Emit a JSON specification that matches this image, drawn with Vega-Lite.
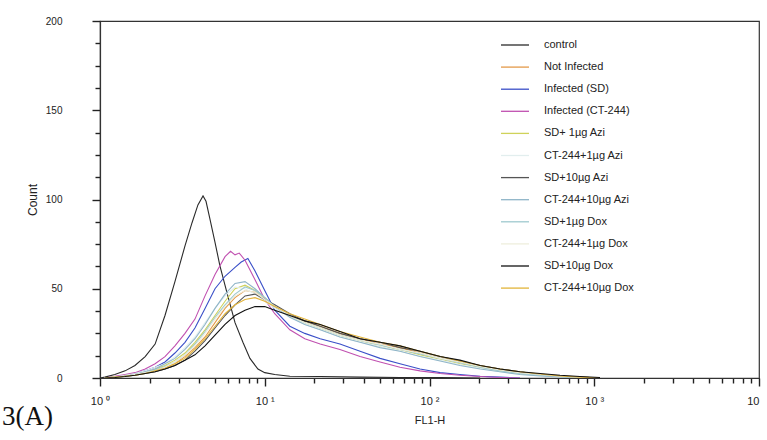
{
  "$schema": "https://vega.github.io/schema/vega-lite/v6.json",
  "width": 659,
  "height": 357,
  "autosize": {"type": "none"},
  "padding": {"left": 100, "top": 21, "right": 8, "bottom": 62},
  "config": {
    "view": {"stroke": "#333333", "strokeWidth": 1.2},
    "font": "Liberation Sans"
  },
  "title": {
    "text": "3(A)",
    "orient": "bottom",
    "anchor": "start",
    "frame": "group",
    "dx": -98,
    "offset": -21,
    "font": "Liberation Serif",
    "fontSize": 27,
    "fontWeight": "normal",
    "color": "#111111"
  },
  "data": {
    "values": [
      {"s":"control","x":1.0,"y":0},{"s":"control","x":1.07,"y":0.5},{"s":"control","x":1.23,"y":2},{"s":"control","x":1.42,"y":4},{"s":"control","x":1.63,"y":7},{"s":"control","x":1.88,"y":12},{"s":"control","x":2.16,"y":19},{"s":"control","x":2.48,"y":35},{"s":"control","x":2.85,"y":54},{"s":"control","x":3.28,"y":74},{"s":"control","x":3.62,"y":87},{"s":"control","x":3.93,"y":97},{"s":"control","x":4.22,"y":102},{"s":"control","x":4.4,"y":99},{"s":"control","x":4.65,"y":89},{"s":"control","x":4.99,"y":76},{"s":"control","x":5.34,"y":63},{"s":"control","x":5.89,"y":48},{"s":"control","x":6.6,"y":31},{"s":"control","x":7.37,"y":20},{"s":"control","x":8.13,"y":11},{"s":"control","x":9.09,"y":5},{"s":"control","x":10.0,"y":3},{"s":"control","x":11.5,"y":2},{"s":"control","x":14.2,"y":1},{"s":"control","x":21.7,"y":0.8},{"s":"control","x":37.9,"y":0.5},{"s":"control","x":66.2,"y":0.3},{"s":"control","x":116,"y":0.2},{"s":"control","x":203,"y":0},

      {"s":"Not Infected","x":1.07,"y":0},{"s":"Not Infected","x":1.23,"y":0.5},{"s":"Not Infected","x":1.42,"y":1},{"s":"Not Infected","x":1.63,"y":2},{"s":"Not Infected","x":1.88,"y":3},{"s":"Not Infected","x":2.16,"y":4},{"s":"Not Infected","x":2.48,"y":6},{"s":"Not Infected","x":2.85,"y":8},{"s":"Not Infected","x":3.28,"y":12},{"s":"Not Infected","x":3.77,"y":17},{"s":"Not Infected","x":4.34,"y":23},{"s":"Not Infected","x":4.99,"y":31},{"s":"Not Infected","x":5.74,"y":39},{"s":"Not Infected","x":6.6,"y":45},{"s":"Not Infected","x":7.59,"y":49},{"s":"Not Infected","x":8.73,"y":48},{"s":"Not Infected","x":10.0,"y":44},{"s":"Not Infected","x":11.5,"y":40},{"s":"Not Infected","x":14.2,"y":35},{"s":"Not Infected","x":17.5,"y":32},{"s":"Not Infected","x":21.7,"y":29},{"s":"Not Infected","x":28.6,"y":25},{"s":"Not Infected","x":37.9,"y":22},{"s":"Not Infected","x":50.1,"y":19},{"s":"Not Infected","x":66.2,"y":17},{"s":"Not Infected","x":87.6,"y":14},{"s":"Not Infected","x":116,"y":11},{"s":"Not Infected","x":153,"y":9},{"s":"Not Infected","x":203,"y":6.5},{"s":"Not Infected","x":268,"y":4.5},{"s":"Not Infected","x":354,"y":3},{"s":"Not Infected","x":469,"y":2},{"s":"Not Infected","x":620,"y":1},{"s":"Not Infected","x":819,"y":0.5},{"s":"Not Infected","x":1084,"y":0},

      {"s":"Infected (SD)","x":1.07,"y":0},{"s":"Infected (SD)","x":1.23,"y":0.5},{"s":"Infected (SD)","x":1.42,"y":1.5},{"s":"Infected (SD)","x":1.63,"y":2.5},{"s":"Infected (SD)","x":1.88,"y":4},{"s":"Infected (SD)","x":2.16,"y":6},{"s":"Infected (SD)","x":2.48,"y":9},{"s":"Infected (SD)","x":2.85,"y":14},{"s":"Infected (SD)","x":3.28,"y":20},{"s":"Infected (SD)","x":3.77,"y":28},{"s":"Infected (SD)","x":4.34,"y":39},{"s":"Infected (SD)","x":4.99,"y":50},{"s":"Infected (SD)","x":5.74,"y":57},{"s":"Infected (SD)","x":6.6,"y":62},{"s":"Infected (SD)","x":7.2,"y":65},{"s":"Infected (SD)","x":7.9,"y":67},{"s":"Infected (SD)","x":8.73,"y":60},{"s":"Infected (SD)","x":10.0,"y":49},{"s":"Infected (SD)","x":11.5,"y":38},{"s":"Infected (SD)","x":14.2,"y":29},{"s":"Infected (SD)","x":17.5,"y":25},{"s":"Infected (SD)","x":21.7,"y":22},{"s":"Infected (SD)","x":28.6,"y":19},{"s":"Infected (SD)","x":37.9,"y":15},{"s":"Infected (SD)","x":50.1,"y":11},{"s":"Infected (SD)","x":66.2,"y":8},{"s":"Infected (SD)","x":87.6,"y":5},{"s":"Infected (SD)","x":116,"y":3},{"s":"Infected (SD)","x":153,"y":2},{"s":"Infected (SD)","x":203,"y":1},{"s":"Infected (SD)","x":268,"y":0.5},{"s":"Infected (SD)","x":354,"y":0},

      {"s":"Infected (CT-244)","x":1.07,"y":0},{"s":"Infected (CT-244)","x":1.23,"y":1},{"s":"Infected (CT-244)","x":1.42,"y":2},{"s":"Infected (CT-244)","x":1.63,"y":3},{"s":"Infected (CT-244)","x":1.88,"y":5},{"s":"Infected (CT-244)","x":2.16,"y":8},{"s":"Infected (CT-244)","x":2.48,"y":12},{"s":"Infected (CT-244)","x":2.85,"y":18},{"s":"Infected (CT-244)","x":3.28,"y":25},{"s":"Infected (CT-244)","x":3.77,"y":33},{"s":"Infected (CT-244)","x":4.34,"y":46},{"s":"Infected (CT-244)","x":4.99,"y":58},{"s":"Infected (CT-244)","x":5.74,"y":68},{"s":"Infected (CT-244)","x":6.2,"y":71},{"s":"Infected (CT-244)","x":6.6,"y":69},{"s":"Infected (CT-244)","x":7.0,"y":70},{"s":"Infected (CT-244)","x":7.59,"y":66},{"s":"Infected (CT-244)","x":8.73,"y":55},{"s":"Infected (CT-244)","x":10.0,"y":44},{"s":"Infected (CT-244)","x":11.5,"y":36},{"s":"Infected (CT-244)","x":14.2,"y":27},{"s":"Infected (CT-244)","x":17.5,"y":22},{"s":"Infected (CT-244)","x":21.7,"y":19},{"s":"Infected (CT-244)","x":28.6,"y":16},{"s":"Infected (CT-244)","x":37.9,"y":12},{"s":"Infected (CT-244)","x":50.1,"y":9},{"s":"Infected (CT-244)","x":66.2,"y":6},{"s":"Infected (CT-244)","x":87.6,"y":4},{"s":"Infected (CT-244)","x":116,"y":2.5},{"s":"Infected (CT-244)","x":153,"y":1.5},{"s":"Infected (CT-244)","x":203,"y":0.8},{"s":"Infected (CT-244)","x":268,"y":0.3},{"s":"Infected (CT-244)","x":354,"y":0},

      {"s":"SD+ 1µg Azi","x":1.07,"y":0},{"s":"SD+ 1µg Azi","x":1.23,"y":0.5},{"s":"SD+ 1µg Azi","x":1.42,"y":1},{"s":"SD+ 1µg Azi","x":1.63,"y":2},{"s":"SD+ 1µg Azi","x":1.88,"y":3},{"s":"SD+ 1µg Azi","x":2.16,"y":5},{"s":"SD+ 1µg Azi","x":2.48,"y":7},{"s":"SD+ 1µg Azi","x":2.85,"y":10},{"s":"SD+ 1µg Azi","x":3.28,"y":14},{"s":"SD+ 1µg Azi","x":3.77,"y":20},{"s":"SD+ 1µg Azi","x":4.34,"y":27},{"s":"SD+ 1µg Azi","x":4.99,"y":35},{"s":"SD+ 1µg Azi","x":5.74,"y":43},{"s":"SD+ 1µg Azi","x":6.6,"y":50},{"s":"SD+ 1µg Azi","x":7.59,"y":52},{"s":"SD+ 1µg Azi","x":8.73,"y":49},{"s":"SD+ 1µg Azi","x":10.0,"y":45},{"s":"SD+ 1µg Azi","x":11.5,"y":40},{"s":"SD+ 1µg Azi","x":14.2,"y":35},{"s":"SD+ 1µg Azi","x":17.5,"y":31},{"s":"SD+ 1µg Azi","x":21.7,"y":28},{"s":"SD+ 1µg Azi","x":28.6,"y":24},{"s":"SD+ 1µg Azi","x":37.9,"y":21},{"s":"SD+ 1µg Azi","x":50.1,"y":18},{"s":"SD+ 1µg Azi","x":66.2,"y":16},{"s":"SD+ 1µg Azi","x":87.6,"y":13},{"s":"SD+ 1µg Azi","x":116,"y":10.5},{"s":"SD+ 1µg Azi","x":153,"y":8},{"s":"SD+ 1µg Azi","x":203,"y":6},{"s":"SD+ 1µg Azi","x":268,"y":4},{"s":"SD+ 1µg Azi","x":354,"y":2.5},{"s":"SD+ 1µg Azi","x":469,"y":1.5},{"s":"SD+ 1µg Azi","x":620,"y":0.8},{"s":"SD+ 1µg Azi","x":819,"y":0.3},{"s":"SD+ 1µg Azi","x":1084,"y":0},

      {"s":"CT-244+1µg Azi","x":1.07,"y":0},{"s":"CT-244+1µg Azi","x":1.23,"y":0.5},{"s":"CT-244+1µg Azi","x":1.42,"y":1.5},{"s":"CT-244+1µg Azi","x":1.63,"y":2.5},{"s":"CT-244+1µg Azi","x":1.88,"y":4},{"s":"CT-244+1µg Azi","x":2.16,"y":6},{"s":"CT-244+1µg Azi","x":2.48,"y":8},{"s":"CT-244+1µg Azi","x":2.85,"y":12},{"s":"CT-244+1µg Azi","x":3.28,"y":17},{"s":"CT-244+1µg Azi","x":3.77,"y":23},{"s":"CT-244+1µg Azi","x":4.34,"y":31},{"s":"CT-244+1µg Azi","x":4.99,"y":39},{"s":"CT-244+1µg Azi","x":5.74,"y":46},{"s":"CT-244+1µg Azi","x":6.6,"y":51},{"s":"CT-244+1µg Azi","x":7.59,"y":50},{"s":"CT-244+1µg Azi","x":8.73,"y":47},{"s":"CT-244+1µg Azi","x":10.0,"y":43},{"s":"CT-244+1µg Azi","x":11.5,"y":39},{"s":"CT-244+1µg Azi","x":14.2,"y":34},{"s":"CT-244+1µg Azi","x":17.5,"y":30},{"s":"CT-244+1µg Azi","x":21.7,"y":27},{"s":"CT-244+1µg Azi","x":28.6,"y":23},{"s":"CT-244+1µg Azi","x":37.9,"y":20},{"s":"CT-244+1µg Azi","x":50.1,"y":18},{"s":"CT-244+1µg Azi","x":66.2,"y":15},{"s":"CT-244+1µg Azi","x":87.6,"y":12},{"s":"CT-244+1µg Azi","x":116,"y":10},{"s":"CT-244+1µg Azi","x":153,"y":7.5},{"s":"CT-244+1µg Azi","x":203,"y":5.5},{"s":"CT-244+1µg Azi","x":268,"y":3.5},{"s":"CT-244+1µg Azi","x":354,"y":2.5},{"s":"CT-244+1µg Azi","x":469,"y":1.5},{"s":"CT-244+1µg Azi","x":620,"y":0.7},{"s":"CT-244+1µg Azi","x":819,"y":0.3},{"s":"CT-244+1µg Azi","x":1084,"y":0},

      {"s":"SD+10µg Azi","x":1.07,"y":0},{"s":"SD+10µg Azi","x":1.23,"y":0.3},{"s":"SD+10µg Azi","x":1.42,"y":1},{"s":"SD+10µg Azi","x":1.63,"y":1.5},{"s":"SD+10µg Azi","x":1.88,"y":2.5},{"s":"SD+10µg Azi","x":2.16,"y":3.5},{"s":"SD+10µg Azi","x":2.48,"y":5},{"s":"SD+10µg Azi","x":2.85,"y":7},{"s":"SD+10µg Azi","x":3.28,"y":10},{"s":"SD+10µg Azi","x":3.77,"y":15},{"s":"SD+10µg Azi","x":4.34,"y":21},{"s":"SD+10µg Azi","x":4.99,"y":28},{"s":"SD+10µg Azi","x":5.74,"y":35},{"s":"SD+10µg Azi","x":6.6,"y":41},{"s":"SD+10µg Azi","x":7.59,"y":46},{"s":"SD+10µg Azi","x":8.73,"y":47},{"s":"SD+10µg Azi","x":10.0,"y":44},{"s":"SD+10µg Azi","x":11.5,"y":41},{"s":"SD+10µg Azi","x":14.2,"y":36},{"s":"SD+10µg Azi","x":17.5,"y":32},{"s":"SD+10µg Azi","x":21.7,"y":29},{"s":"SD+10µg Azi","x":28.6,"y":25},{"s":"SD+10µg Azi","x":37.9,"y":22},{"s":"SD+10µg Azi","x":50.1,"y":20},{"s":"SD+10µg Azi","x":66.2,"y":17},{"s":"SD+10µg Azi","x":87.6,"y":15},{"s":"SD+10µg Azi","x":116,"y":12},{"s":"SD+10µg Azi","x":153,"y":9.5},{"s":"SD+10µg Azi","x":203,"y":7},{"s":"SD+10µg Azi","x":268,"y":5},{"s":"SD+10µg Azi","x":354,"y":3.5},{"s":"SD+10µg Azi","x":469,"y":2},{"s":"SD+10µg Azi","x":620,"y":1},{"s":"SD+10µg Azi","x":819,"y":0.5},{"s":"SD+10µg Azi","x":1084,"y":0},

      {"s":"CT-244+10µg Azi","x":1.07,"y":0},{"s":"CT-244+10µg Azi","x":1.23,"y":0.5},{"s":"CT-244+10µg Azi","x":1.42,"y":1},{"s":"CT-244+10µg Azi","x":1.63,"y":2},{"s":"CT-244+10µg Azi","x":1.88,"y":3.5},{"s":"CT-244+10µg Azi","x":2.16,"y":5},{"s":"CT-244+10µg Azi","x":2.48,"y":8},{"s":"CT-244+10µg Azi","x":2.85,"y":11},{"s":"CT-244+10µg Azi","x":3.28,"y":16},{"s":"CT-244+10µg Azi","x":3.77,"y":22},{"s":"CT-244+10µg Azi","x":4.34,"y":30},{"s":"CT-244+10µg Azi","x":4.99,"y":39},{"s":"CT-244+10µg Azi","x":5.74,"y":47},{"s":"CT-244+10µg Azi","x":6.6,"y":53},{"s":"CT-244+10µg Azi","x":7.59,"y":54},{"s":"CT-244+10µg Azi","x":8.73,"y":50},{"s":"CT-244+10µg Azi","x":10.0,"y":45},{"s":"CT-244+10µg Azi","x":11.5,"y":40},{"s":"CT-244+10µg Azi","x":14.2,"y":34},{"s":"CT-244+10µg Azi","x":17.5,"y":30},{"s":"CT-244+10µg Azi","x":21.7,"y":27},{"s":"CT-244+10µg Azi","x":28.6,"y":23},{"s":"CT-244+10µg Azi","x":37.9,"y":20},{"s":"CT-244+10µg Azi","x":50.1,"y":17},{"s":"CT-244+10µg Azi","x":66.2,"y":15},{"s":"CT-244+10µg Azi","x":87.6,"y":12},{"s":"CT-244+10µg Azi","x":116,"y":9.5},{"s":"CT-244+10µg Azi","x":153,"y":7},{"s":"CT-244+10µg Azi","x":203,"y":5},{"s":"CT-244+10µg Azi","x":268,"y":3.5},{"s":"CT-244+10µg Azi","x":354,"y":2},{"s":"CT-244+10µg Azi","x":469,"y":1.2},{"s":"CT-244+10µg Azi","x":620,"y":0.6},{"s":"CT-244+10µg Azi","x":819,"y":0.2},{"s":"CT-244+10µg Azi","x":1084,"y":0},

      {"s":"SD+1µg Dox","x":1.07,"y":0},{"s":"SD+1µg Dox","x":1.23,"y":0.5},{"s":"SD+1µg Dox","x":1.42,"y":1},{"s":"SD+1µg Dox","x":1.63,"y":2},{"s":"SD+1µg Dox","x":1.88,"y":3},{"s":"SD+1µg Dox","x":2.16,"y":4.5},{"s":"SD+1µg Dox","x":2.48,"y":6.5},{"s":"SD+1µg Dox","x":2.85,"y":9},{"s":"SD+1µg Dox","x":3.28,"y":13},{"s":"SD+1µg Dox","x":3.77,"y":19},{"s":"SD+1µg Dox","x":4.34,"y":26},{"s":"SD+1µg Dox","x":4.99,"y":34},{"s":"SD+1µg Dox","x":5.74,"y":41},{"s":"SD+1µg Dox","x":6.6,"y":47},{"s":"SD+1µg Dox","x":7.59,"y":51},{"s":"SD+1µg Dox","x":8.73,"y":49},{"s":"SD+1µg Dox","x":10.0,"y":45},{"s":"SD+1µg Dox","x":11.5,"y":40},{"s":"SD+1µg Dox","x":14.2,"y":35},{"s":"SD+1µg Dox","x":17.5,"y":31},{"s":"SD+1µg Dox","x":21.7,"y":28},{"s":"SD+1µg Dox","x":28.6,"y":24},{"s":"SD+1µg Dox","x":37.9,"y":21},{"s":"SD+1µg Dox","x":50.1,"y":18.5},{"s":"SD+1µg Dox","x":66.2,"y":16},{"s":"SD+1µg Dox","x":87.6,"y":13.5},{"s":"SD+1µg Dox","x":116,"y":11},{"s":"SD+1µg Dox","x":153,"y":8.5},{"s":"SD+1µg Dox","x":203,"y":6},{"s":"SD+1µg Dox","x":268,"y":4},{"s":"SD+1µg Dox","x":354,"y":2.5},{"s":"SD+1µg Dox","x":469,"y":1.5},{"s":"SD+1µg Dox","x":620,"y":0.8},{"s":"SD+1µg Dox","x":819,"y":0.3},{"s":"SD+1µg Dox","x":1084,"y":0},

      {"s":"CT-244+1µg Dox","x":1.07,"y":0},{"s":"CT-244+1µg Dox","x":1.23,"y":0.5},{"s":"CT-244+1µg Dox","x":1.42,"y":1},{"s":"CT-244+1µg Dox","x":1.63,"y":2},{"s":"CT-244+1µg Dox","x":1.88,"y":3},{"s":"CT-244+1µg Dox","x":2.16,"y":4},{"s":"CT-244+1µg Dox","x":2.48,"y":6},{"s":"CT-244+1µg Dox","x":2.85,"y":9},{"s":"CT-244+1µg Dox","x":3.28,"y":13},{"s":"CT-244+1µg Dox","x":3.77,"y":18},{"s":"CT-244+1µg Dox","x":4.34,"y":25},{"s":"CT-244+1µg Dox","x":4.99,"y":33},{"s":"CT-244+1µg Dox","x":5.74,"y":40},{"s":"CT-244+1µg Dox","x":6.6,"y":46},{"s":"CT-244+1µg Dox","x":7.59,"y":49},{"s":"CT-244+1µg Dox","x":8.73,"y":48},{"s":"CT-244+1µg Dox","x":10.0,"y":44},{"s":"CT-244+1µg Dox","x":11.5,"y":40},{"s":"CT-244+1µg Dox","x":14.2,"y":35},{"s":"CT-244+1µg Dox","x":17.5,"y":31},{"s":"CT-244+1µg Dox","x":21.7,"y":28},{"s":"CT-244+1µg Dox","x":28.6,"y":24},{"s":"CT-244+1µg Dox","x":37.9,"y":21},{"s":"CT-244+1µg Dox","x":50.1,"y":19},{"s":"CT-244+1µg Dox","x":66.2,"y":16},{"s":"CT-244+1µg Dox","x":87.6,"y":14},{"s":"CT-244+1µg Dox","x":116,"y":11},{"s":"CT-244+1µg Dox","x":153,"y":9},{"s":"CT-244+1µg Dox","x":203,"y":6.5},{"s":"CT-244+1µg Dox","x":268,"y":4.5},{"s":"CT-244+1µg Dox","x":354,"y":3},{"s":"CT-244+1µg Dox","x":469,"y":2},{"s":"CT-244+1µg Dox","x":620,"y":1},{"s":"CT-244+1µg Dox","x":819,"y":0.5},{"s":"CT-244+1µg Dox","x":1084,"y":0},

      {"s":"CT-244+10µg Dox","x":1.07,"y":0},{"s":"CT-244+10µg Dox","x":1.23,"y":0.5},{"s":"CT-244+10µg Dox","x":1.42,"y":1},{"s":"CT-244+10µg Dox","x":1.63,"y":1.5},{"s":"CT-244+10µg Dox","x":1.88,"y":2.5},{"s":"CT-244+10µg Dox","x":2.16,"y":4},{"s":"CT-244+10µg Dox","x":2.48,"y":5.5},{"s":"CT-244+10µg Dox","x":2.85,"y":8},{"s":"CT-244+10µg Dox","x":3.28,"y":11},{"s":"CT-244+10µg Dox","x":3.77,"y":16},{"s":"CT-244+10µg Dox","x":4.34,"y":22},{"s":"CT-244+10µg Dox","x":4.99,"y":29},{"s":"CT-244+10µg Dox","x":5.74,"y":36},{"s":"CT-244+10µg Dox","x":6.6,"y":41},{"s":"CT-244+10µg Dox","x":7.59,"y":44},{"s":"CT-244+10µg Dox","x":8.73,"y":45},{"s":"CT-244+10µg Dox","x":10.0,"y":43},{"s":"CT-244+10µg Dox","x":11.5,"y":40},{"s":"CT-244+10µg Dox","x":14.2,"y":36},{"s":"CT-244+10µg Dox","x":17.5,"y":33},{"s":"CT-244+10µg Dox","x":21.7,"y":30},{"s":"CT-244+10µg Dox","x":28.6,"y":26},{"s":"CT-244+10µg Dox","x":37.9,"y":23},{"s":"CT-244+10µg Dox","x":50.1,"y":20},{"s":"CT-244+10µg Dox","x":66.2,"y":18},{"s":"CT-244+10µg Dox","x":87.6,"y":15},{"s":"CT-244+10µg Dox","x":116,"y":12},{"s":"CT-244+10µg Dox","x":153,"y":9.5},{"s":"CT-244+10µg Dox","x":203,"y":7},{"s":"CT-244+10µg Dox","x":268,"y":5},{"s":"CT-244+10µg Dox","x":354,"y":3.5},{"s":"CT-244+10µg Dox","x":469,"y":2.2},{"s":"CT-244+10µg Dox","x":620,"y":1.2},{"s":"CT-244+10µg Dox","x":819,"y":0.5},{"s":"CT-244+10µg Dox","x":1084,"y":0},

      {"s":"SD+10µg Dox","x":1.07,"y":0},{"s":"SD+10µg Dox","x":1.23,"y":0.3},{"s":"SD+10µg Dox","x":1.42,"y":0.8},{"s":"SD+10µg Dox","x":1.63,"y":1.5},{"s":"SD+10µg Dox","x":1.88,"y":2.5},{"s":"SD+10µg Dox","x":2.16,"y":3.5},{"s":"SD+10µg Dox","x":2.48,"y":5},{"s":"SD+10µg Dox","x":2.85,"y":7},{"s":"SD+10µg Dox","x":3.28,"y":10},{"s":"SD+10µg Dox","x":3.77,"y":13},{"s":"SD+10µg Dox","x":4.34,"y":18},{"s":"SD+10µg Dox","x":4.99,"y":24},{"s":"SD+10µg Dox","x":5.74,"y":30},{"s":"SD+10µg Dox","x":6.6,"y":35},{"s":"SD+10µg Dox","x":7.59,"y":38},{"s":"SD+10µg Dox","x":8.73,"y":40},{"s":"SD+10µg Dox","x":10.0,"y":40},{"s":"SD+10µg Dox","x":11.5,"y":38},{"s":"SD+10µg Dox","x":14.2,"y":35},{"s":"SD+10µg Dox","x":17.5,"y":32},{"s":"SD+10µg Dox","x":21.7,"y":30},{"s":"SD+10µg Dox","x":28.6,"y":26},{"s":"SD+10µg Dox","x":37.9,"y":22},{"s":"SD+10µg Dox","x":50.1,"y":20},{"s":"SD+10µg Dox","x":66.2,"y":18},{"s":"SD+10µg Dox","x":87.6,"y":15},{"s":"SD+10µg Dox","x":116,"y":12},{"s":"SD+10µg Dox","x":153,"y":10},{"s":"SD+10µg Dox","x":203,"y":7},{"s":"SD+10µg Dox","x":268,"y":5},{"s":"SD+10µg Dox","x":354,"y":3.5},{"s":"SD+10µg Dox","x":469,"y":2.5},{"s":"SD+10µg Dox","x":620,"y":1.5},{"s":"SD+10µg Dox","x":819,"y":0.8},{"s":"SD+10µg Dox","x":1084,"y":0.3}
    ]
  },
  "mark": {"type": "line", "strokeWidth": 1.1, "clip": true},
  "encoding": {
    "x": {
      "field": "x",
      "type": "quantitative",
      "scale": {"type": "log", "domain": [1, 10000]},
      "title": "FL1-H",
      "axis": {
        "values": [1,2,3,4,5,6,7,8,9,10,20,30,40,50,60,70,80,90,100,200,300,400,500,600,700,800,900,1000,2000,3000,4000,5000,6000,7000,8000,9000,10000],
        "labelExpr": "datum.value == 1 ? '10  ⁰' : datum.value == 10 ? '10  ¹' : datum.value == 100 ? '10  ²' : datum.value == 1000 ? '10  ³' : datum.value == 10000 ? '10' : ''",
        "labelOverlap": false,
        "labelFlush": false,
        "labelAlign": {"condition": {"test": "datum.value == 10000", "value": "right"}, "value": "center"},
        "labelFontSize": 11,
        "labelColor": "#222222",
        "labelPadding": 9,
        "ticks": true,
        "tickSize": {"condition": {"test": "datum.value == 1 || datum.value == 10 || datum.value == 100 || datum.value == 1000 || datum.value == 10000", "value": 8}, "value": 5},
        "tickWidth": 1.4,
        "tickColor": "#222222",
        "domainColor": "#333333",
        "domainWidth": 1.2,
        "grid": false,
        "titleFontSize": 11,
        "titleFontWeight": "normal",
        "titleColor": "#222222",
        "titlePadding": 8
      }
    },
    "y": {
      "field": "y",
      "type": "quantitative",
      "scale": {"domain": [0, 200], "nice": false},
      "title": "Count",
      "axis": {
        "values": [0,12.5,25,37.5,50,62.5,75,87.5,100,112.5,125,137.5,150,162.5,175,187.5,200],
        "labelExpr": "datum.value % 50 == 0 ? datum.value : ''",
        "labelOverlap": false,
        "labelFontSize": 10,
        "labelColor": "#222222",
        "labelPadding": 30,
        "ticks": true,
        "tickSize": {"condition": {"test": "datum.value % 50 == 0", "value": 8}, "value": 5},
        "tickWidth": 1.4,
        "tickColor": "#222222",
        "domainColor": "#333333",
        "domainWidth": 1.2,
        "grid": false,
        "titleFontSize": 12,
        "titleFontWeight": "normal",
        "titleColor": "#222222",
        "titlePadding": 6
      }
    },
    "color": {
      "field": "s",
      "type": "nominal",
      "scale": {
        "domain": ["control","Not Infected","Infected (SD)","Infected (CT-244)","SD+ 1µg Azi","CT-244+1µg Azi","SD+10µg Azi","CT-244+10µg Azi","SD+1µg Dox","CT-244+1µg Dox","SD+10µg Dox","CT-244+10µg Dox"],
        "range": ["#2a2a2a","#e39a4a","#3a4fc8","#c050b0","#cfd25a","#e2eeee","#555555","#8fb5c8","#9fc9cf","#eeeedd","#111111","#e2b43a"]
      },
      "legend": {
        "orient": "none",
        "legendX": 400,
        "legendY": 9,
        "title": null,
        "padding": 0,
        "symbolType": "stroke",
        "symbolSize": 784,
        "symbolStrokeWidth": 1.3,
        "labelFont": "Liberation Sans",
        "labelFontSize": 11,
        "labelColor": "#222222",
        "labelOffset": 14,
        "rowPadding": 2.1
      }
    }
  }
}
